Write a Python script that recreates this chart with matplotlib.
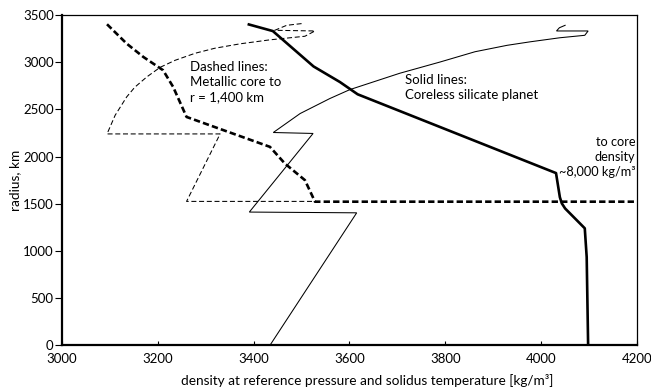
import matplotlib
matplotlib.use("Agg")
import matplotlib.pyplot as plt

# --- data (density in kg/m3, radius in km) ---
# Coreless silicate planet: density (thick solid)
sil_density = [3390, 3440, 3525, 3580, 3617, 4031, 4039, 4043, 4050, 4091, 4095, 4098]
sil_density_r = [3400, 3330, 2955, 2790, 2660, 1825, 1570, 1505, 1450, 1240, 935, 0]

# Coreless silicate planet: thin solid
sil_thin = [4050, 4038, 4032, 4098, 4091, 4039, 3977, 3929, 3862, 3789, 3705, 3601, 3559, 3497,
            3441, 3524, 3391, 3615, 3434]
sil_thin_r = [3391, 3365, 3331, 3331, 3285, 3259, 3216, 3179, 3111, 3002, 2883, 2710, 2615, 2456,
              2255, 2245, 1412, 1404, 0]

# Metallic core case: density (thick dashed)
core_density = [3094, 3135, 3170, 3211, 3232, 3260, 3434, 3465, 3507, 3528, 4200]
core_density_r = [3402, 3197, 3055, 2915, 2738, 2420, 2103, 1927, 1750, 1522, 1522]

# Metallic core case: thin dashed
core_thin = [3500, 3469, 3444, 3528, 3507, 3434, 3372, 3319, 3278, 3236, 3205, 3177, 3152, 3135,
             3111, 3094, 3330, 3260, 3528]
core_thin_r = [3409, 3391, 3338, 3331, 3275, 3237, 3195, 3148, 3095, 3020, 2946, 2844, 2735, 2632,
               2438, 2240, 2240, 1525, 1525]

xticks = [3000, 3200, 3400, 3600, 3800, 4000, 4200]
yticks = [0, 500, 1000, 1500, 2000, 2500, 3000, 3500]

plt.rcParams['font.family'] = ['Lato', 'DejaVu Sans']

fig = plt.figure(figsize=(6.51, 3.88), dpi=100)
ax = fig.add_axes([0.0952, 0.110, 0.8833, 0.8513])

ax.plot(sil_thin, sil_thin_r, color='black', lw=0.75, solid_joinstyle='miter')
ax.plot(core_thin, core_thin_r, color='black', lw=0.75, dashes=(4.8, 2.6))
ax.plot(core_density, core_density_r, color='black', lw=1.9, dashes=(2.4, 1.2))
ax.plot(sil_density, sil_density_r, color='black', lw=1.9)

ax.set_xlim(3000, 4200)
ax.set_ylim(0, 3500)
ax.set_xticks(xticks)
ax.set_yticks(yticks)
ax.tick_params(axis='x', direction='in', length=3, width=0.8, pad=5.5, labelsize=9.5)
ax.tick_params(axis='y', direction='out', length=5, width=0.8, pad=1, labelsize=9.5)

for s in ['left', 'bottom']:
    ax.spines[s].set_linewidth(1.6)
for s in ['top', 'right']:
    ax.spines[s].set_linewidth(0.9)

ax.set_xlabel('density at reference pressure and solidus temperature [kg/m³]', fontsize=9.8,
              va='center')
ax.xaxis.set_label_coords(0.53, -0.105)
ax.set_ylabel('radius, km', fontsize=9.8)
ax.yaxis.set_label_coords(-0.071, 0.5)

ax.text(3267, 2788, 'Dashed lines:\nMetallic core to\nr = 1,400 km', fontsize=9.5,
        ha='left', va='center', linespacing=1.3)
ax.text(3715, 2735, 'Solid lines:\nCoreless silicate planet', fontsize=9.5,
        ha='left', va='center', linespacing=1.3)
ax.text(4196, 1994, 'to core\ndensity\n~8,000 kg/m³', fontsize=9.2,
        ha='right', va='center', linespacing=1.3)

fig.savefig('out.png', dpi=100)
